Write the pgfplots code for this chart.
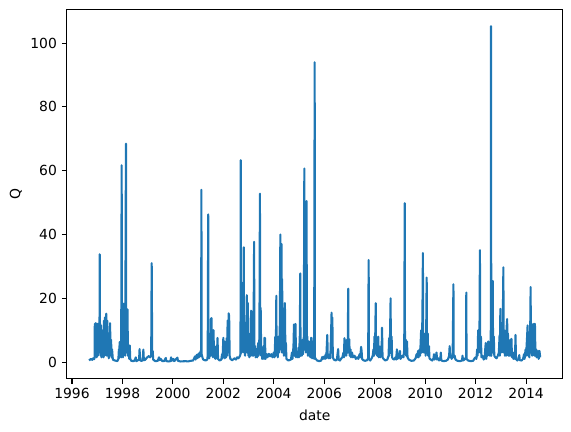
\documentclass[border=0pt]{standalone}
\usepackage{pgfplots}
\pgfplotsset{compat=1.18}
\usepackage{pgfplotstable}
\usepackage{fontspec}
\setmainfont{DejaVu Sans}
\definecolor{mplblue}{HTML}{1F77B4}
\pgfplotstableread{
t q
1996.68 0.5
1996.72 0.8
1996.76 1.0
1996.80 0.7
1996.84 1.2
1996.88 0.9
1996.90 1.5
1996.905 12.0
1996.92 3
1996.93 12.2
1996.95 2
1996.96 11.8
1996.98 1.5
1996.99 12.1
1997.01 4
1997.02 9
1997.03 2
1997.05 12
1997.07 3
1997.09 6
1997.10 33.8
1997.11 5
1997.12 12
1997.14 2
1997.15 11.5
1997.17 1.5
1997.19 10
1997.21 2
1997.23 8
1997.25 1.5
1997.27 13
1997.29 2
1997.31 14
1997.33 3
1997.36 15.2
1997.38 2
1997.40 13
1997.42 2
1997.44 9
1997.46 1.2
1997.48 7
1997.50 2
1997.51 12.2
1997.53 3
1997.55 7
1997.57 1.5
1997.59 4
1997.62 0.8
1997.70 0.5
1997.80 0.3
1997.84 1.0
1997.86 4
1997.87 1.2
1997.89 6.3
1997.91 2
1997.93 5
1997.95 1.5
1997.97 61.7
1997.98 3
1998.00 10
1998.02 1.5
1998.05 18.3
1998.07 3
1998.09 17.5
1998.11 2
1998.14 68.5
1998.15 5
1998.17 12
1998.19 3
1998.20 16.5
1998.22 2
1998.25 4
1998.27 1
1998.29 5.2
1998.31 1.0
1998.35 0.4
1998.45 0.3
1998.50 0.8
1998.53 1.5
1998.55 0.3
1998.60 0.5
1998.66 0.8
1998.68 4.1
1998.70 0.6
1998.74 0.4
1998.80 0.5
1998.83 3.9
1998.85 0.6
1998.90 0.7
1998.95 1.2
1999.00 1.6
1999.05 1.9
1999.10 1.5
1999.14 2
1999.16 31
1999.18 1.8
1999.20 3.5
1999.22 0.8
1999.30 0.3
1999.40 0.4
1999.45 1.5
1999.48 0.6
1999.52 1.0
1999.58 0.3
1999.65 0.3
1999.72 1.3
1999.74 0.3
1999.85 0.2
1999.90 0.3
1999.93 1.5
1999.95 0.4
2000.02 1.0
2000.05 0.3
2000.10 0.7
2000.18 1.4
2000.20 0.4
2000.30 0.2
2000.50 0.3
2000.60 0.2
2000.70 0.4
2000.80 0.5
2000.88 1.8
2000.90 0.8
2000.95 2.3
2000.97 1.2
2001.00 2.5
2001.03 1.5
2001.06 3.0
2001.08 1.8
2001.10 3.5
2001.12 2
2001.13 54
2001.14 2.5
2001.17 1.5
2001.20 0.8
2001.30 0.5
2001.36 0.8
2001.38 2
2001.40 46.3
2001.41 2
2001.44 1.2
2001.47 4
2001.49 2
2001.51 13.5
2001.53 13.8
2001.55 2
2001.57 10
2001.59 1.5
2001.61 10
2001.63 2
2001.66 4
2001.68 1
2001.72 5
2001.74 1.2
2001.77 7.6
2001.79 1
2001.85 0.5
2001.92 0.8
2001.95 2.5
2001.97 1.2
2002.00 7.6
2002.02 1.5
2002.04 6.5
2002.06 1.2
2002.09 3
2002.11 1.5
2002.13 7.5
2002.15 2
2002.17 13
2002.19 3
2002.21 15.3
2002.23 14.5
2002.25 2
2002.28 1
2002.35 0.6
2002.45 1.2
2002.50 0.8
2002.55 1.5
2002.60 1.2
2002.65 1.8
2002.68 2.5
2002.69 63.3
2002.70 5
2002.72 25
2002.73 3
2002.75 20
2002.77 4
2002.79 10
2002.81 36
2002.82 3
2002.84 12
2002.86 2
2002.88 8
2002.90 3
2002.93 21
2002.95 3
2002.97 18.5
2002.99 2
2003.01 9
2003.03 1.5
2003.06 4
2003.08 2
2003.10 16.1
2003.12 15.5
2003.14 2
2003.17 4
2003.19 2
2003.22 37.7
2003.23 3
2003.26 5
2003.28 1.5
2003.32 4
2003.34 1.5
2003.38 6
2003.40 2
2003.43 8
2003.45 52.8
2003.46 4
2003.48 17
2003.50 2
2003.52 5
2003.54 1
2003.58 2
2003.61 1
2003.63 7.6
2003.65 7.5
2003.67 1
2003.72 2.5
2003.75 1.5
2003.80 2.6
2003.85 1.8
2003.90 2.5
2003.95 1.5
2004.00 3
2004.03 1.5
2004.06 8
2004.08 2
2004.10 20.8
2004.11 3
2004.14 5
2004.16 1.5
2004.19 8
2004.21 3
2004.24 12
2004.26 40
2004.27 4
2004.29 12
2004.31 37
2004.32 3
2004.33 26
2004.35 3
2004.38 10
2004.40 2
2004.42 12
2004.44 18.5
2004.46 2
2004.48 6
2004.50 1
2004.58 0.5
2004.68 0.8
2004.72 3
2004.74 1
2004.78 5
2004.80 11.8
2004.82 2
2004.84 6
2004.86 12
2004.88 1.5
2004.92 3
2004.95 1.5
2004.98 4.5
2005.00 1.5
2005.03 8
2005.05 27.8
2005.06 2
2005.09 5
2005.11 2
2005.14 7
2005.16 2.5
2005.19 8
2005.21 60.7
2005.22 4
2005.25 20
2005.27 3
2005.30 50.5
2005.31 4
2005.33 8
2005.35 2
2005.38 6.5
2005.40 2
2005.43 5
2005.45 1.5
2005.48 7.6
2005.50 7.5
2005.52 1.2
2005.57 2
2005.60 1
2005.62 94
2005.63 1.5
2005.66 1
2005.72 0.5
2005.80 0.3
2005.88 0.5
2005.92 1.6
2005.95 1
2006.00 1.8
2006.03 1
2006.06 2.5
2006.08 1.2
2006.12 8.5
2006.14 1.5
2006.18 1.2
2006.22 2.5
2006.24 1.2
2006.27 9
2006.29 15.5
2006.30 3
2006.32 14
2006.34 1.5
2006.38 0.8
2006.45 0.5
2006.50 0.8
2006.55 4.1
2006.57 0.8
2006.62 0.5
2006.68 1.2
2006.72 1.5
2006.76 3
2006.78 1.5
2006.80 7.5
2006.82 2
2006.85 6
2006.87 2
2006.90 7
2006.93 3
2006.95 23
2006.96 3
2006.99 7.2
2007.01 2
2007.04 4
2007.06 1.5
2007.10 3
2007.14 1.5
2007.20 2
2007.25 1
2007.30 1.5
2007.35 1
2007.40 2.5
2007.43 1.5
2007.46 4.8
2007.48 3.5
2007.50 1
2007.55 0.6
2007.62 0.4
2007.70 0.6
2007.74 1.2
2007.76 32
2007.77 1
2007.82 0.5
2007.88 1.2
2007.92 2
2007.95 4
2007.97 2
2007.99 8
2008.01 2.5
2008.04 18.5
2008.05 3
2008.08 6
2008.10 2
2008.14 8
2008.16 1.5
2008.20 3
2008.22 1.5
2008.25 5
2008.27 2
2008.29 10.8
2008.31 1.5
2008.35 1
2008.42 0.5
2008.50 0.8
2008.55 2
2008.57 7.5
2008.58 2
2008.60 5
2008.63 20
2008.64 3
2008.67 8
2008.69 1.5
2008.72 1
2008.78 0.8
2008.82 1.5
2008.85 0.8
2008.88 4
2008.90 1
2008.95 1.5
2009.00 3.5
2009.02 1
2009.06 1.5
2009.10 2
2009.14 1.5
2009.17 4
2009.19 49.8
2009.20 3
2009.23 7
2009.25 2
2009.28 6.5
2009.30 1.5
2009.35 0.8
2009.45 0.4
2009.55 0.5
2009.62 1.2
2009.66 2.5
2009.68 1.5
2009.72 3.5
2009.74 1.5
2009.78 4
2009.80 2
2009.84 10
2009.86 3
2009.89 14
2009.91 34.2
2009.92 3
2009.95 9
2009.97 3
2010.00 6
2010.02 2
2010.04 10
2010.06 26.5
2010.07 3
2010.10 9
2010.12 2
2010.15 5
2010.17 1.2
2010.22 0.8
2010.28 0.5
2010.33 1.2
2010.35 2.5
2010.37 0.8
2010.42 1.5
2010.45 3
2010.47 0.8
2010.52 1.2
2010.55 0.5
2010.60 1
2010.62 3
2010.64 0.5
2010.72 0.3
2010.82 0.4
2010.90 0.8
2010.95 2
2010.97 5
2010.99 1.5
2011.02 2
2011.05 1
2011.09 2.5
2011.12 24.4
2011.13 1.5
2011.17 2
2011.20 0.8
2011.28 0.4
2011.38 0.3
2011.46 0.5
2011.48 2
2011.50 0.5
2011.56 0.8
2011.62 1.5
2011.63 21.8
2011.64 1
2011.70 0.5
2011.80 0.3
2011.90 0.4
2011.96 1.2
2012.00 1.5
2012.03 1
2012.06 4
2012.08 2
2012.10 10
2012.12 3
2012.15 6
2012.17 35.1
2012.18 3
2012.21 8
2012.23 1.5
2012.27 2
2012.32 0.8
2012.36 1.5
2012.38 4
2012.40 6
2012.42 1
2012.45 3
2012.47 2
2012.50 6.5
2012.52 3
2012.55 4
2012.57 2
2012.60 3
2012.61 105.3
2012.62 2
2012.65 6
2012.68 25.4
2012.69 3
2012.72 8
2012.74 2
2012.78 1.5
2012.83 1.2
2012.88 2
2012.92 3
2012.95 8.5
2012.96 2
2012.98 16.7
2012.99 3
2013.02 12
2013.04 3
2013.07 8
2013.10 29.7
2013.11 3
2013.14 10
2013.16 2
2013.19 6
2013.21 2
2013.23 11
2013.25 13.5
2013.26 3
2013.28 9
2013.30 2
2013.33 6
2013.35 2
2013.38 7
2013.40 2
2013.42 7.3
2013.44 1.5
2013.48 3
2013.50 1
2013.54 2
2013.56 1
2013.58 8.5
2013.60 1
2013.65 0.5
2013.70 1
2013.73 2.2
2013.75 0.6
2013.82 0.5
2013.88 1
2013.92 2.5
2013.94 1
2013.98 4
2014.00 2
2014.04 8
2014.06 11.5
2014.08 2
2014.11 4
2014.13 1.5
2014.16 8
2014.18 23.5
2014.19 3
2014.22 12
2014.24 2
2014.26 8
2014.28 3
2014.31 12
2014.33 2
2014.35 12
2014.37 2
2014.40 4
2014.42 1.5
2014.46 2
2014.48 3.5
2014.50 1
2014.53 3.5
2014.56 1.5
}\qdata
\begin{document}
\begin{tikzpicture}
\begin{axis}[
  scale only axis,
  width=357.1pt, height=266.1pt,
  xmin=1995.79, xmax=2015.45,
  ymin=-5.27, ymax=110.6,
  xtick={1996,1998,...,2014},
  ytick={0,20,...,100},
  scaled x ticks=false,
  /pgf/number format/assume math mode=true,
  xticklabel style={/pgf/number format/1000 sep={}},
  tick pos=left,
  tick align=outside,
  major tick length=3.5pt,
  every tick/.style={black, line width=0.8pt},
  axis line style={line width=0.8pt},
  xlabel={date}, ylabel={Q},
  every axis x label/.style={at={(axis description cs:0.5,-0.0973)}, anchor=center},
  every axis y label/.style={at={(axis description cs:-0.1022,0.5)}, rotate=90, anchor=center},
  font=\fontsize{10}{12}\selectfont,
]
\addplot[color=mplblue, line width=1.5pt, line join=round, mark=none] table[x=t, y=q] {\qdata};
\coordinate (A) at (rel axis cs:0,0);
\coordinate (B) at (rel axis cs:1,1);
\end{axis}
\pgfresetboundingbox
\path ([shift={(-48pt,-38.2pt)}]A) rectangle ([shift={(6pt,6.7pt)}]B);
\end{tikzpicture}
\end{document}
